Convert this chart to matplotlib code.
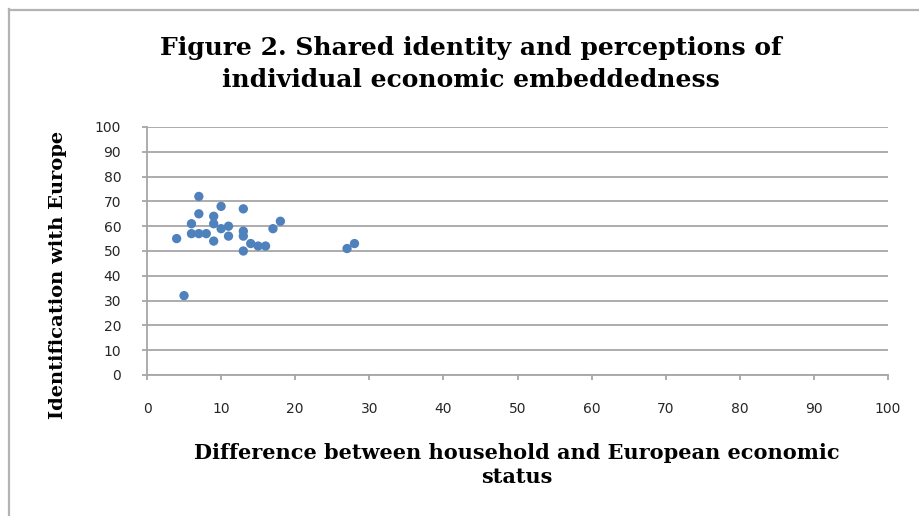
import matplotlib
matplotlib.use("Agg")
import matplotlib.pyplot as plt

# Country-level observations
econ_gap = [7, 10, 13, 7, 9, 6, 9, 10, 11, 18, 17, 6, 7, 8, 9, 11, 13, 13, 4, 14, 15, 16, 13, 27, 28, 5]
eu_identity = [72, 68, 67, 65, 64, 61, 61, 59, 60, 62, 59, 57, 57, 57, 54, 56, 58, 56, 55, 53, 52, 52, 50, 51, 53, 32]

ticks = list(range(0, 101, 10))

title = "Figure 2. Shared identity and perceptions of\nindividual economic embeddedness"
xlabel = "Difference between household and European economic\nstatus"
ylabel = "Identification with Europe"

W, H, DPI = 919, 516, 100
fig = plt.figure(figsize=(W / DPI, H / DPI), dpi=DPI)
fig.patch.set_facecolor("white")

# chart-area frame (open to the right and bottom)
fig.add_artist(plt.Line2D([9 / W, 9 / W], [0, 1 - 9 / H], transform=fig.transFigure,
                          color="#b3b3b3", lw=1.6))
fig.add_artist(plt.Line2D([9 / W, 1], [1 - 9.5 / H, 1 - 9.5 / H], transform=fig.transFigure,
                          color="#b3b3b3", lw=1.6))

ax = fig.add_axes([147 / W, 1 - 375 / H, (888 - 147) / W, (375 - 127) / H])
ax.scatter(econ_gap, eu_identity, s=45, color="#4f81bd", edgecolors="none", zorder=3)

ax.set_xlim(0, 100)
ax.set_ylim(0, 100)
ax.set_xticks(ticks)
ax.set_yticks(ticks)
ax.grid(axis="y", color="#a6a6a6", lw=1.3)
ax.set_axisbelow(True)
for s in ["top", "right"]:
    ax.spines[s].set_visible(False)
for s in ["left", "bottom"]:
    ax.spines[s].set_color("#a6a6a6")
    ax.spines[s].set_linewidth(1.3)
ax.tick_params(axis="both", color="#a6a6a6", width=1.3, length=3.6,
               labelsize=10, labelcolor="#262626")
ax.tick_params(axis="x", pad=16)
ax.tick_params(axis="y", pad=15)
for lab in ax.get_xticklabels() + ax.get_yticklabels():
    lab.set_fontfamily("DejaVu Sans")

serif = ["DejaVu Serif"]
fig.text(471 / W, 1 - 64 / H, title, ha="center", va="center", fontsize=18,
         fontweight="bold", family=serif, linespacing=1.4)
fig.text(517 / W, 1 - 465 / H, xlabel, ha="center", va="center", fontsize=15,
         fontweight="bold", family=serif, linespacing=1.25)
fig.text(58 / W, 1 - 275 / H, ylabel, ha="center", va="center", fontsize=14,
         fontweight="bold", family=serif, rotation=90)

fig.savefig("out.png", dpi=DPI)
